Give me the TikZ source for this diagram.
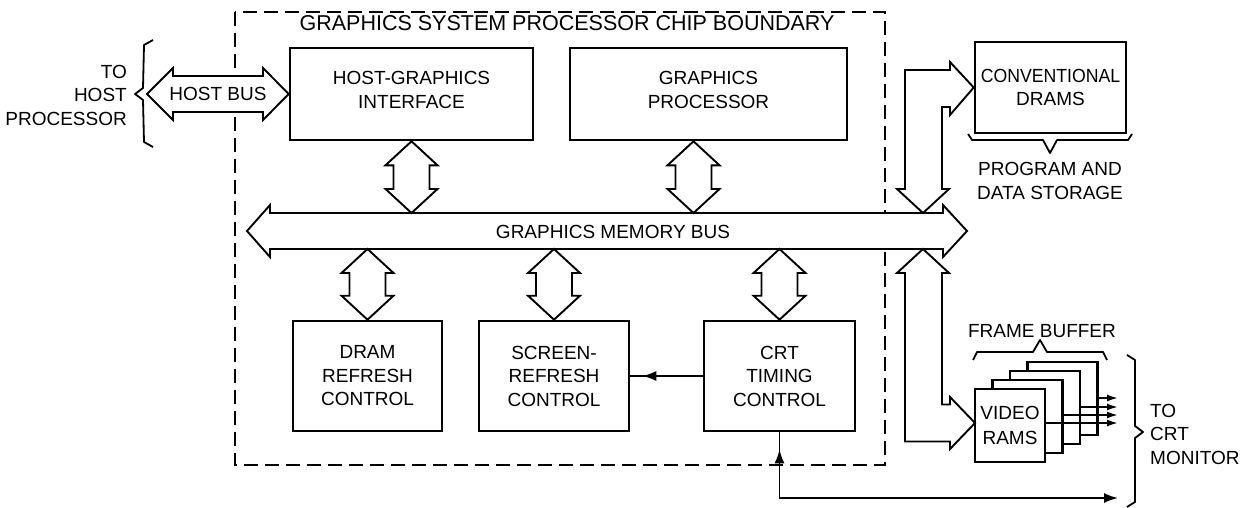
\documentclass[tikz,border=0pt]{standalone}
\usepackage{fontspec}
\usepackage{graphicx}
\setmainfont{Liberation Sans}
\usetikzlibrary{calc,arrows.meta,decorations.markings}
\newcommand{\txt}{\fontsize{19}{23.5}\selectfont}
\newcommand{\vdbl}[2]{%
  \path[busl] let \p1=#1, \p2=#2 in
    (\x1,\y1) -- (\x1+26pt,\y1-24pt) -- (\x1+18pt,\y1-24pt) -- (\x1+18pt,\y2+24pt)
    -- (\x1+26pt,\y2+24pt) -- (\x1,\y2) -- (\x1-26pt,\y2+24pt) -- (\x1-18pt,\y2+24pt)
    -- (\x1-18pt,\y1-24pt) -- (\x1-26pt,\y1-24pt) -- cycle;}
\tikzset{
  blk/.style={draw, line width=2.6pt, fill=white, align=center, font=\txt, inner sep=0pt},
  busl/.style={draw, line width=1.9pt, fill=white, line join=miter},
  sig/.style={line width=1.8pt},
  brc/.style={line width=1.8pt, line join=round},
  lbl/.style={font=\txt, align=center, inner sep=0pt},
  chipb/.style={line width=1.8pt, dash pattern=on 14pt off 7pt},
  sigtip/.tip={Latex[length=14pt,width=10pt]},
  outtip/.tip={Latex[length=11pt,width=7pt]},
}
\begin{document}
\begin{tikzpicture}[x=1pt,y=-1pt]
\useasboundingbox (0,0) rectangle (1260,508);
% chip boundary
\draw[chipb] (235,12) rectangle (885,465);
\node[lbl, font=\fontsize{21.5}{25}\selectfont] (title) at (567,23) {GRAPHICS SYSTEM PROCESSOR CHIP BOUNDARY};
% blocks
\node[blk, minimum width=243pt, minimum height=92pt] (hgi) at (411.5,94) {HOST-GRAPHICS\\INTERFACE\\[-15.5pt]\mbox{}};
\node[blk, minimum width=277pt, minimum height=92pt] (gp) at (708.5,94) {GRAPHICS\\PROCESSOR\\[-15.5pt]\mbox{}};
\node[blk, minimum width=149pt, minimum height=110pt] (dram) at (367.5,376) {DRAM\\REFRESH\\CONTROL};
\node[blk, minimum width=150pt, minimum height=110pt] (sr) at (554,376) {SCREEN-\\REFRESH\\CONTROL};
\node[blk, minimum width=151pt, minimum height=110pt] (crt) at (779.5,376) {CRT\\TIMING\\CONTROL};
\node[blk, minimum width=151pt, minimum height=91pt] (cdram) at (1050.5,87.5) {\scalebox{0.93}[1]{CONVENTIONAL}\\DRAMS};
% video rams stack (back to front)
\node[blk, minimum width=70pt, minimum height=73pt] (vr4) at (1062.5,398.5) {};
\node[blk, minimum width=70pt, minimum height=73pt] (vr3) at (1045,407.5) {};
\node[blk, minimum width=70pt, minimum height=73pt] (vr2) at (1027.5,416.5) {};
\node[blk, minimum width=70pt, minimum height=73pt] (vr1) at (1010,425.5) {VIDEO\\[1.5pt]RAMS};
% graphics memory bus
\coordinate (bustop) at (0,213);
\coordinate (busbot) at (0,249);
\path[busl] (247,231) -- (270,205) -- (270,213) -- (943,213) -- (943,205) -- (967,231)
  -- (943,257) -- (943,249) -- (270,249) -- (270,257) -- cycle;
\node[lbl] (gmb) at (613,232) {GRAPHICS MEMORY BUS};
% host bus
\path[busl] (147,94) -- (173,68) -- (173,76) -- (263,76) -- (263,68) -- (hgi.west)
  -- (263,120) -- (263,112) -- (173,112) -- (173,120) -- cycle;
\node[lbl] (hb) at (218,94) {HOST BUS};
% vertical double arrows
\vdbl{(hgi.south)}{(hgi.south |- bustop)}
\coordinate (gpa) at ($(gp.south)+(-15,0)$);
\vdbl{(gpa)}{(gpa |- bustop)}
\vdbl{(dram.north |- busbot)}{(dram.north)}
\vdbl{(sr.north |- busbot)}{(sr.north)}
\vdbl{(crt.north |- busbot)}{(crt.north)}
% L-shaped arrows to external memories
\path[busl] (923,213) -- (949,189) -- (942,189) -- (942,107) -- (950,107) -- (950,115)
  -- (cdram.west) -- (950,62) -- (950,70) -- (905,70) -- (905,189) -- (897,189) -- cycle;
\path[busl] (923,249) -- (949,273) -- (942,273) -- (942,404.5) -- (950,404.5) -- (950,397)
  -- (975,423) -- (950,449) -- (950,441.5) -- (905,441.5) -- (905,273) -- (897,273) -- cycle;
% video outputs
\coordinate (o1) at (1118,423);
\coordinate (o2) at (1118,415);
\coordinate (o3) at (1118,407);
\coordinate (o4) at (1118,398);
\draw[sig, -{outtip}] (vr1.east |- o1) -- (o1);
\draw[sig, -{outtip}] (vr2.east |- o2) -- (o2);
\draw[sig, -{outtip}] (vr3.east |- o3) -- (o3);
\draw[sig, -{outtip}] (vr4.east |- o4) -- (o4);
% timing signals
\draw[sig, postaction={decorate}, decoration={markings, mark=at position -12pt with {\arrow{sigtip}}}] (crt.west) -- (sr.east);
\coordinate (crtout) at (1118,498);
\draw[sig, -{sigtip}, postaction={decorate}, decoration={markings, mark=at position 17pt with {\arrowreversed{sigtip}}}] (crt.south) |- (crtout);
% braces
\draw[brc] (153,40) -- (144,45) -- (143,88) -- (135,94) -- (143,100) -- (144,142) -- (153,147);
\draw[brc] (968,134) -- (972,140) -- (1043,140) -- (1050,153) -- (1057,140) -- (1128,140) -- (1132,134);
\draw[brc] (973,360) -- (977,352) -- (1033,352) -- (1040,340) -- (1047,352) -- (1103,352) -- (1107,360);
\draw[brc] (1127,355) -- (1135,360) -- (1135,426) -- (1143,432) -- (1135,438) -- (1135,502) -- (1127,507);
% outer labels
\node[lbl, align=right, anchor=east] (host) at (127,95) {TO\\HOST\\PROCESSOR};
\node[lbl] (pds) at (1050,181) {PROGRAM AND\\DATA STORAGE};
\node[lbl] (fb) at (1042,331) {FRAME BUFFER};
\node[lbl, align=left, anchor=west] (mon) at (1150,434) {TO\\CRT\\MONITOR};
\end{tikzpicture}
\end{document}
